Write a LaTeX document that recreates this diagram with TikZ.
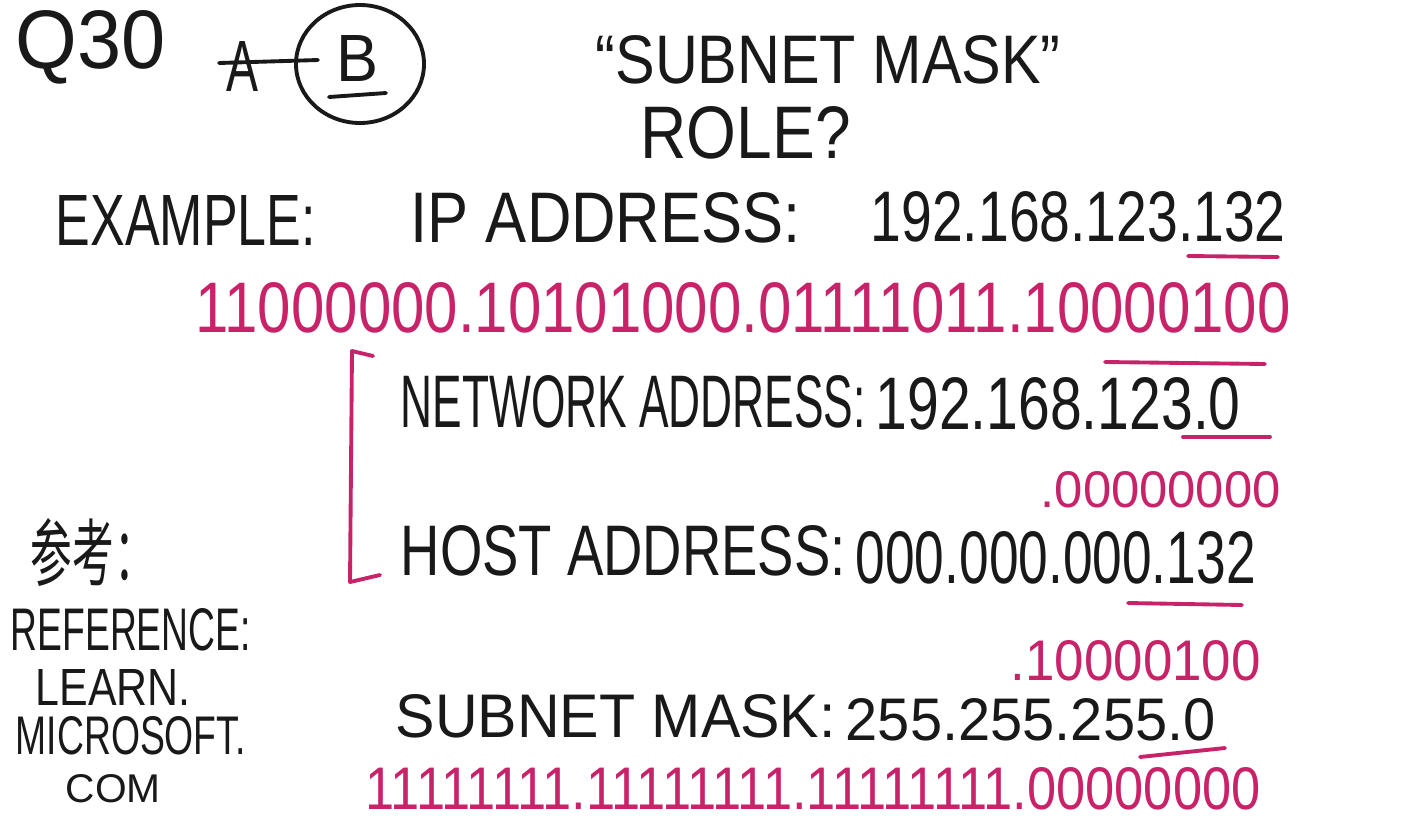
\documentclass[tikz,border=0pt]{standalone}
\usepackage{fontspec}
\setmainfont{Liberation Sans}
\newfontfamily\cjk{Noto Sans CJK SC}
\usepackage{graphicx}
\definecolor{inkblk}{RGB}{25,25,25}
\definecolor{inkpink}{RGB}{200,35,105}
\newlength\pxu
\setlength\pxu{0.01cm}
\newcommand{\hand}[3]{\resizebox{#1\pxu}{#2\pxu}{#3}}

\begin{document}
\begin{tikzpicture}[
  x=0.01cm,y=-0.01cm,
  note/.style={anchor=west,inner sep=0pt,text=inkblk},
  bin/.style={anchor=west,inner sep=0pt,text=inkpink},
  inkline/.style={draw=inkblk,line width=1.1pt,line cap=round},
  penline/.style={draw=inkpink,line width=1.1pt,line cap=round,line join=round}
]
  \fill[white] (0,0) rectangle (1412,830);
  \useasboundingbox (0,0) rectangle (1412,830);

  \node[note] (qnum) at (15,47) {\hand{150}{58}{Q30}};
  \node[note] (opta) at (226,66) {\hand{32}{50}{A}};
  \node[note] (optb) at (336,58) {\hand{42}{46}{B}};
  \draw[inkline] (219,63) -- (318,60);
  \draw[inkline] (360,64) ellipse (64 and 59);
  \draw[inkline] (329,97) -- (386,93);

  \node[note] (title) at (595,60) {\hand{465}{48}{“SUBNET MASK”}};
  \node[note] (role) at (640,133) {\hand{210}{52}{ROLE?}};

  \node[note] (example) at (55,220) {\hand{260}{50}{EXAMPLE:}};
  \node[note] (iplabel) at (410,218) {\hand{390}{50}{IP ADDRESS:}};
  \node[note] (ipval) at (870,217) {\hand{415}{50}{192.168.123.132}};
  \draw[penline] (1188,256) -- (1278,257);
  \node[bin] (ipbin) at (195,308) {\hand{1095}{50}{11000000.10101000.01111011.10000100}};
  \draw[penline] (1105,362) -- (1265,364);

  \draw[penline] (373,356) -- (352,351) -- (350,582) -- (380,575);

  \node[note] (netlabel) at (400,402) {\hand{465}{52}{NETWORK ADDRESS:}};
  \node[note] (netval) at (875,404) {\hand{365}{52}{192.168.123.0}};
  \draw[penline] (1183,437) -- (1270,437);
  \node[bin] (netbin) at (1040,490) {\hand{240}{36}{.00000000}};

  \node[note] (hostlabel) at (400,551) {\hand{445}{50}{HOST ADDRESS:}};
  \node[note] (hostval) at (855,558) {\hand{400}{52}{000.000.000.132}};
  \draw[penline] (1128,603) -- (1242,605);
  \node[bin] (hostbin) at (1010,661) {\hand{250}{40}{.10000100}};

  \node[note] (masklabel) at (395,716) {\hand{440}{43}{SUBNET MASK:}};
  \node[note] (maskval) at (845,720) {\hand{370}{42}{255.255.255.0}};
  \draw[penline] (1140,757) -- (1225,748);
  \node[bin] (maskbin) at (365,789) {\hand{895}{42}{11111111.11111111.11111111.00000000}};

  \node[note] (refcn) at (30,552) {\hand{125}{62}{\cjk 参考：}};
  \node[note] (refen) at (10,630) {\hand{240}{42}{REFERENCE:}};
  \node[note] (learn) at (35,687) {\hand{155}{36}{LEARN.}};
  \node[note] (msft) at (15,736) {\hand{230}{38}{MICROSOFT.}};
  \node[note] (dotcom) at (65,789) {\hand{95}{28}{COM}};
\end{tikzpicture}
\end{document}
